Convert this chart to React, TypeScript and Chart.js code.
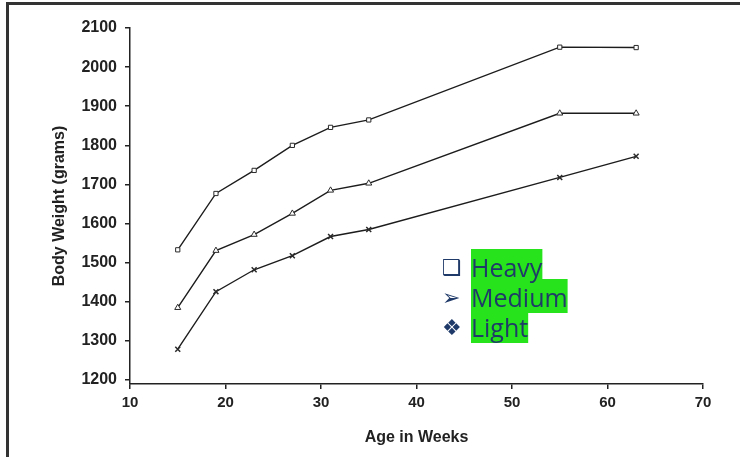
import React, { useEffect, useRef } from "react";
import { Chart, registerables } from "chart.js";

Chart.register(...registerables);

const weeks = [15, 19, 23, 27, 31, 35, 55, 63];
const heavy = [1533, 1677, 1736, 1800, 1846, 1865, 2051, 2050];
const medium = [1385, 1531, 1572, 1626, 1685, 1703, 1882, 1882];
const light = [1279, 1426, 1482, 1518, 1567, 1585, 1718, 1772];
const seriesLabels = ["Heavy", "Medium", "Light"];
const legendIcons = ["❑", "➢", "❖"];
const yTickValues = [1200, 1300, 1400, 1500, 1600, 1700, 1800, 1900, 2000, 2100];
const xTickValues = [10, 20, 30, 40, 50, 60, 70];
const xTitle = "Age in Weeks";
const yTitle = "Body Weight (grams)";

const INK = "#222222";
const NAVY = "#1f3a68";
const GREEN = "#27e31b";

const overlayLegend = {
  id: "overlayLegend",
  afterDraw(chart: any) {
    const ctx = chart.ctx as CanvasRenderingContext2D;
    const textX = 471;
    const iconX = 442;
    const top0 = 249;
    const step = 30;
    const boxH = 34;
    ctx.save();
    ctx.textBaseline = "alphabetic";
    ctx.textAlign = "left";
    ctx.font = '25px "Open Sans", sans-serif';
    const labels = chart.data.datasets.map((d: any) => d.label as string);
    labels.forEach((lab: string, i: number) => {
      const w = ctx.measureText(lab).width;
      ctx.fillStyle = GREEN;
      ctx.fillRect(textX, top0 + i * step, w, boxH);
    });
    labels.forEach((lab: string, i: number) => {
      const base = top0 + i * step + 28;
      ctx.fillStyle = NAVY;
      ctx.font = '25px "Open Sans", sans-serif';
      ctx.fillText(lab, textX, base);
      ctx.font = 'bold 22px "DejaVu Sans", sans-serif';
      ctx.fillText(legendIcons[i], iconX, base - 2);
    });
    ctx.restore();
  },
};

export default function App() {
  const ref = useRef<HTMLCanvasElement | null>(null);

  useEffect(() => {
    if (!ref.current) return;
    Chart.defaults.font.family = '"Liberation Sans", Arial, sans-serif';
    const mk = (arr: number[]) => weeks.map((w, i) => ({ x: w, y: arr[i] }));
    const common = {
      borderColor: "#1c1c1c",
      borderWidth: 1.4,
      pointBackgroundColor: "#ffffff",
      pointBorderColor: "#2a2a2a",
      pointBorderWidth: 1,
      tension: 0,
      fill: false,
    };
    const chart = new Chart(ref.current, {
      type: "line",
      data: {
        datasets: [
          { ...common, label: seriesLabels[0], data: mk(heavy), pointStyle: "rect", pointRadius: 3 },
          { ...common, label: seriesLabels[1], data: mk(medium), pointStyle: "triangle", pointRadius: 3.5 },
          { ...common, label: seriesLabels[2], data: mk(light), pointStyle: "crossRot", pointRadius: 3.5, pointBorderWidth: 1.5 },
        ],
      },
      options: {
        responsive: false,
        devicePixelRatio: 1,
        animation: false,
        layout: { padding: { left: 50, top: 28, right: 37, bottom: 0 } },
        plugins: { legend: { display: false }, tooltip: { enabled: false } },
        scales: {
          x: {
            type: "linear",
            min: 10,
            max: 70,
            afterBuildTicks: (s: any) => {
              s.ticks = xTickValues.map((v) => ({ value: v }));
            },
            ticks: {
              color: INK,
              font: { size: 15, weight: "bold" },
              padding: 5,
              callback: (v: any) => String(v),
            },
            grid: { drawOnChartArea: false, tickLength: 5, color: INK, lineWidth: 1.5 },
            border: { color: INK, width: 1.5 },
            title: {
              display: true,
              text: xTitle,
              color: INK,
              font: { size: 16, weight: "bold" },
              padding: { top: 0, bottom: 10 },
            },
            afterFit: (s: any) => {
              s.height = 73;
            },
          },
          y: {
            type: "linear",
            min: 1190,
            max: 2100,
            afterBuildTicks: (s: any) => {
              s.ticks = yTickValues.map((v) => ({ value: v }));
            },
            ticks: {
              color: INK,
              font: { size: 16, weight: "bold" },
              padding: 8,
              callback: (v: any) => String(v),
            },
            grid: { drawOnChartArea: false, tickLength: 5, color: INK, lineWidth: 1.5 },
            border: { color: INK, width: 1.5 },
            title: {
              display: true,
              text: yTitle,
              color: INK,
              font: { size: 16, weight: "bold" },
              padding: { top: 0, bottom: 10 },
            },
            afterFit: (s: any) => {
              s.width = 80;
            },
          },
        },
      },
      plugins: [overlayLegend],
    });
    return () => chart.destroy();
  }, []);

  return (
    <>
      <div
        style={{
          position: "absolute",
          left: 6,
          top: 2,
          width: 740,
          height: 460,
          borderTop: "3px solid #333",
          borderLeft: "3px solid #333",
          boxSizing: "border-box",
        }}
      />
      <canvas
        ref={ref}
        width={740}
        height={457}
        style={{ position: "absolute", left: 0, top: 0, display: "block" }}
      />
    </>
  );
}
